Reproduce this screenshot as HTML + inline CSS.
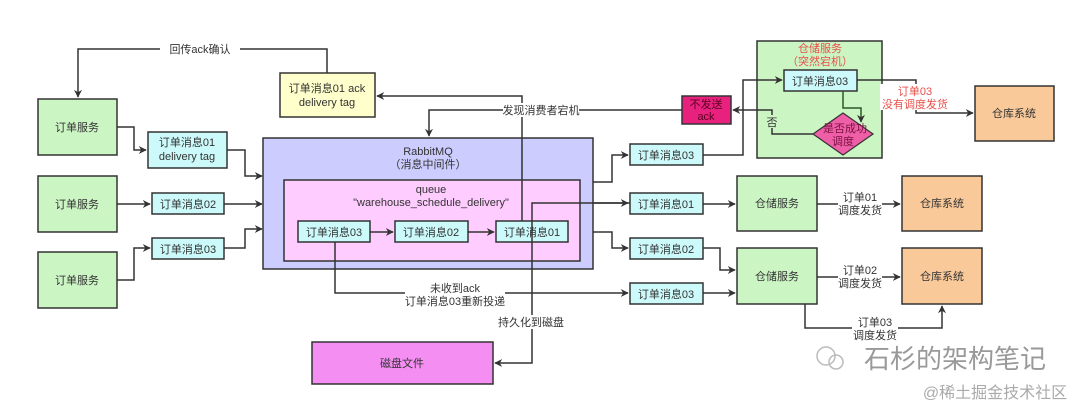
<!DOCTYPE html>
<html><head><meta charset="utf-8"><style>
html,body{margin:0;padding:0;background:#fff;}
svg{display:block;}
text{font-family:"Liberation Sans","Noto Sans CJK SC",sans-serif;font-size:11px;fill:#333;text-anchor:middle;}
.b{stroke:#333;stroke-width:1.5;}
.l{stroke:#333;stroke-width:1.5;fill:none;}
</style></head><body>
<svg width="1080" height="410" viewBox="0 0 1080 410" xmlns="http://www.w3.org/2000/svg">
<defs>
<marker id="a" viewBox="0 0 10 10" refX="9" refY="5" markerWidth="8" markerHeight="8" orient="auto" markerUnits="userSpaceOnUse"><path d="M0,0 L10,5 L0,10 L3,5 z" fill="#333"/></marker>
</defs>

<!-- top ack return line -->
<path class="l" d="M327,73 V49 H78 V97" marker-end="url(#a)"/>
<rect x="160" y="42" width="80" height="14" fill="#fff"/>
<text x="200" y="53">回传ack确认</text>

<!-- order services -->
<rect class="b" x="38" y="99" width="79" height="56" fill="#ccf5c4"/>
<text x="77" y="131">订单服务</text>
<rect class="b" x="38" y="176" width="79" height="56" fill="#ccf5c4"/>
<text x="77" y="208">订单服务</text>
<rect class="b" x="38" y="252" width="79" height="56" fill="#ccf5c4"/>
<text x="77" y="284">订单服务</text>

<!-- msg left -->
<rect class="b" x="148" y="132" width="79" height="36" fill="#ccfafa"/>
<text x="187" y="146">订单消息01</text>
<text x="187" y="160">delivery tag</text>
<rect class="b" x="152" y="193" width="72" height="21" fill="#ccfafa"/>
<text x="188" y="208">订单消息02</text>
<rect class="b" x="152" y="238" width="72" height="21" fill="#ccfafa"/>
<text x="188" y="253">订单消息03</text>

<path class="l" d="M117,127 H134 V150 H146" marker-end="url(#a)"/>
<path class="l" d="M117,204 H150" marker-end="url(#a)"/>
<path class="l" d="M117,280 H134 V248 H150" marker-end="url(#a)"/>
<path class="l" d="M227,150 H245 V176 H262" marker-end="url(#a)"/>
<path class="l" d="M224,204 H262" marker-end="url(#a)"/>
<path class="l" d="M224,248 H245 V229 H262" marker-end="url(#a)"/>

<!-- yellow -->
<rect class="b" x="280" y="73" width="95" height="44" fill="#ffffcc"/>
<text x="327" y="92">订单消息01 ack</text>
<text x="327" y="106">delivery tag</text>

<!-- RabbitMQ -->
<rect class="b" x="263" y="138" width="330" height="131" fill="#ccccff"/>
<text x="428" y="155">RabbitMQ</text>
<text x="428" y="168">（消息中间件）</text>
<rect class="b" x="284" y="180" width="296" height="81" fill="#ffccff"/>
<text x="431" y="193">queue</text>
<text x="431" y="206">"warehouse_schedule_delivery"</text>
<rect class="b" x="298" y="221" width="72" height="21" fill="#ccfafa"/>
<text x="334" y="236">订单消息03</text>
<rect class="b" x="395" y="221" width="73" height="21" fill="#ccfafa"/>
<text x="431" y="236">订单消息02</text>
<rect class="b" x="496" y="221" width="72" height="21" fill="#ccfafa"/>
<text x="532" y="236">订单消息01</text>
<path class="l" d="M370,232 H393" marker-end="url(#a)"/>
<path class="l" d="M468,232 H494" marker-end="url(#a)"/>

<!-- ack line to yellow -->
<path class="l" d="M522,221 V96 H377" marker-end="url(#a)"/>
<!-- found consumer down -->
<path class="l" d="M682,110 H429 V136" marker-end="url(#a)"/>
<rect x="503" y="103" width="76" height="14" fill="#fff"/>
<text x="541" y="114">发现消费者宕机</text>

<!-- persist -->
<path class="l" d="M630,203 H532 V363 H495" marker-end="url(#a)"/>
<path class="l" d="M593,203 H628" marker-end="url(#a)"/>
<rect x="500" y="315" width="64" height="14" fill="#fff"/>
<text x="531" y="326">持久化到磁盘</text>
<rect class="b" x="312" y="342" width="181" height="42" fill="#f48ef2"/>
<text x="402" y="367">磁盘文件</text>

<!-- no ack redeliver -->
<path class="l" d="M335,242 V293 H628" marker-end="url(#a)"/>
<rect x="405" y="282" width="100" height="26" fill="#fff"/>
<text x="455" y="292">未收到ack</text>
<text x="455" y="305">订单消息03重新投递</text>

<!-- right msgs -->
<path class="l" d="M593,182 H612 V155 H628" marker-end="url(#a)"/>
<path class="l" d="M593,232 H612 V248 H628" marker-end="url(#a)"/>
<rect class="b" x="630" y="144" width="73" height="21" fill="#ccfafa"/>
<text x="666" y="159">订单消息03</text>
<rect class="b" x="630" y="193" width="73" height="21" fill="#ccfafa"/>
<text x="666" y="208">订单消息01</text>
<rect class="b" x="630" y="238" width="73" height="21" fill="#ccfafa"/>
<text x="666" y="253">订单消息02</text>
<rect class="b" x="630" y="283" width="73" height="21" fill="#ccfafa"/>
<text x="666" y="298">订单消息03</text>

<!-- green panel -->
<rect class="b" x="757" y="41" width="125" height="117" fill="#ccf5c4"/>
<text x="820" y="52" style="fill:#e8504a">仓储服务</text>
<text x="820" y="65" style="fill:#e8504a">（突然宕机）</text>
<path class="l" d="M703,155 H743 V80 H782" marker-end="url(#a)"/>
<rect class="b" x="784" y="70" width="73" height="21" fill="#ccfafa"/>
<text x="820" y="85">订单消息03</text>
<path d="M843,91 V108 H861 V122" stroke="#2a5a2a" stroke-width="1.5" fill="none" marker-end="url(#a)"/>
<polygon points="843,113 873,134 843,155 813,134" fill="#ee5fa7" stroke="#333" stroke-width="1.2"/>
<text x="845" y="132" style="fill:#7a1040">是否成功</text>
<text x="843" y="145" style="fill:#7a1040">调度</text>
<path class="l" d="M813,134 H772 V110 H733" marker-end="url(#a)"/>
<rect x="765" y="115" width="14" height="13" fill="#ccf5c4"/>
<text x="772" y="126">否</text>
<rect class="b" x="682" y="96" width="49" height="28" fill="#e8217e"/>
<text x="706" y="108" style="fill:#5a0020">不发送</text>
<text x="706" y="120" style="fill:#5a0020">ack</text>

<path class="l" d="M857,80 H916 V113 H973" marker-end="url(#a)"/>
<rect x="880" y="84" width="70" height="26" fill="#fff"/>
<text x="915" y="95" style="fill:#e8504a">订单03</text>
<text x="915" y="108" style="fill:#e8504a">没有调度发货</text>
<rect class="b" x="975" y="86" width="79" height="55" fill="#f9c99a"/>
<text x="1014" y="117">仓库系统</text>

<!-- warehouse middle -->
<path class="l" d="M703,204 H735" marker-end="url(#a)"/>
<rect class="b" x="737" y="176" width="80" height="55" fill="#ccf5c4"/>
<text x="777" y="207">仓储服务</text>
<path class="l" d="M817,204 H900" marker-end="url(#a)"/>
<rect x="838" y="190" width="44" height="26" fill="#fff"/>
<text x="860" y="201">订单01</text>
<text x="860" y="214">调度发货</text>
<rect class="b" x="902" y="176" width="80" height="55" fill="#f9c99a"/>
<text x="942" y="207">仓库系统</text>

<!-- warehouse bottom -->
<path class="l" d="M703,248 H720 V270 H735" marker-end="url(#a)"/>
<path class="l" d="M703,293 H735" marker-end="url(#a)"/>
<rect class="b" x="737" y="248" width="80" height="56" fill="#ccf5c4"/>
<text x="777" y="280">仓储服务</text>
<path class="l" d="M817,277 H900" marker-end="url(#a)"/>
<rect x="838" y="263" width="44" height="26" fill="#fff"/>
<text x="860" y="274">订单02</text>
<text x="860" y="287">调度发货</text>
<rect class="b" x="902" y="248" width="80" height="56" fill="#f9c99a"/>
<text x="942" y="280">仓库系统</text>
<path class="l" d="M805,304 V328 H942 V306" marker-end="url(#a)"/>
<rect x="852" y="315" width="46" height="26" fill="#fff"/>
<text x="875" y="326">订单03</text>
<text x="875" y="339">调度发货</text>

<!-- watermark -->
<circle cx="826" cy="356" r="9" fill="none" stroke="#bbb" stroke-width="1.5"/>
<circle cx="836" cy="362" r="7" fill="none" stroke="#bbb" stroke-width="1.5"/>
<text x="955" y="368" style="font-size:26px;fill:#999">石杉的架构笔记</text>
<text x="995" y="398" style="font-size:16px;fill:#aaa">@稀土掘金技术社区</text>
</svg>
</body></html>
